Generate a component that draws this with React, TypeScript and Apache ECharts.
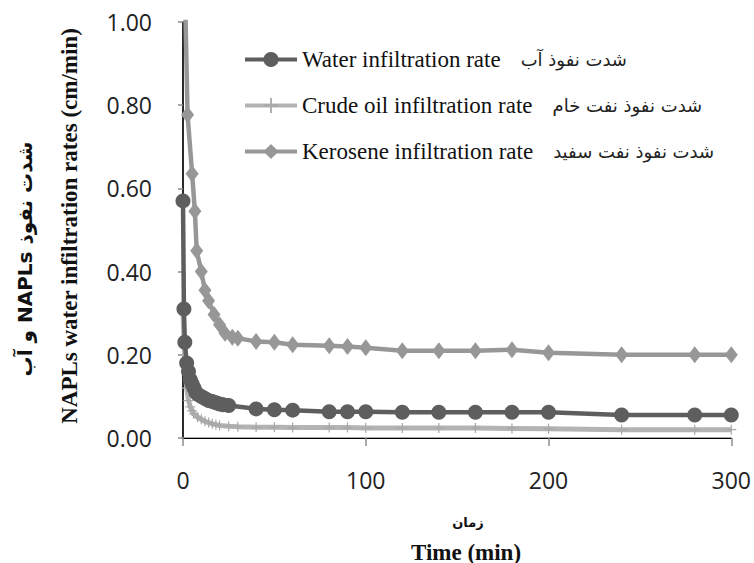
import React, { useEffect, useRef } from "react";
import * as echarts from "echarts";

// ---- data (time in min, rate in cm/min) ----
const waterT = [0, 0.5, 1, 2, 3, 4, 5, 6, 7, 8, 10, 12, 14, 16, 18, 20, 22, 25, 40, 50, 60, 80, 90, 100, 120, 140, 160, 180, 200, 240, 280, 300];
const waterV = [0.57, 0.31, 0.23, 0.18, 0.16, 0.14, 0.13, 0.12, 0.11, 0.105, 0.1, 0.095, 0.09, 0.088, 0.085, 0.082, 0.08, 0.078, 0.07, 0.068, 0.067, 0.063, 0.063, 0.063, 0.062, 0.062, 0.062, 0.062, 0.062, 0.055, 0.055, 0.055];

const crudeT = [0, 1, 2, 3, 4, 5, 6, 8, 10, 12, 14, 16, 18, 20, 25, 30, 40, 50, 60, 80, 90, 100, 120, 140, 160, 180, 200, 240, 280, 300];
const crudeV = [0.3, 0.18, 0.12, 0.09, 0.075, 0.065, 0.058, 0.05, 0.045, 0.04, 0.037, 0.034, 0.032, 0.03, 0.028, 0.027, 0.026, 0.026, 0.025, 0.025, 0.025, 0.024, 0.024, 0.024, 0.024, 0.023, 0.022, 0.02, 0.02, 0.02];

const keroT = [0, 2.5, 5, 6.5, 7.5, 10, 12, 14, 17, 20, 23, 27, 30, 40, 50, 60, 80, 90, 100, 120, 140, 160, 180, 200, 240, 280, 300];
const keroV = [1.3, 0.777, 0.635, 0.545, 0.45, 0.4, 0.355, 0.33, 0.297, 0.272, 0.252, 0.242, 0.24, 0.232, 0.23, 0.224, 0.222, 0.22, 0.217, 0.21, 0.21, 0.21, 0.212, 0.205, 0.2, 0.2, 0.2];

const seriesNames = ["Water infiltration rate", "Crude oil infiltration rate", "Kerosene infiltration rate"];
const seriesNamesFa = ["شدت نفوذ آب", "شدت نفوذ نفت خام", "شدت نفوذ نفت سفید"];

const yTitle = "NAPLs water infiltration rates (cm/min)";
const yTitleFa = "\u202Bشدت نفوذ NAPLs و آب\u202C";
const xTitle = "Time (min)";
const xTitleFa = "زمان";

const zip = (t: number[], v: number[]) => t.map((x, i) => [x, v[i]]);

const PLUS = "path://M4.4,0H5.6V4.4H10V5.6H5.6V10H4.4V5.6H0V4.4H4.4Z";

export default function App() {
  const ref = useRef<HTMLDivElement>(null);
  useEffect(() => {
    document.body.style.margin = "0";
    const chart = echarts.init(ref.current!, undefined, { renderer: "svg" });
    const axisGrey = "#8c8c8c";
    const tickFont = "Open Sans";
    chart.setOption({
      animation: false,
      backgroundColor: "#fff",
      grid: { left: 183, right: 21, top: 22, bottom: 125 },
      legend: {
        orient: "vertical",
        left: 238,
        top: 43,
        itemWidth: 52,
        itemHeight: 19,
        itemGap: 23,
        data: seriesNames,
        lineStyle: { width: 4 },
        formatter: (name: string) => {
          const i = seriesNames.indexOf(name);
          return `{en|${name}}{fa|${seriesNamesFa[i]}}`;
        },
        textStyle: {
          rich: {
            en: { fontFamily: "Liberation Serif", fontSize: 23, color: "#111", lineHeight: 25 },
            fa: { fontFamily: "DejaVu Sans", fontSize: 18, color: "#222", padding: [0, 0, 0, 20], lineHeight: 25 },
          },
        },
      },
      xAxis: [
        {
          type: "value",
          min: 0,
          max: 300,
          interval: 100,
          axisLine: { show: true, lineStyle: { color: axisGrey, width: 1.5 } },
          axisTick: { show: true, length: 8, lineStyle: { color: axisGrey, width: 1.5 } },
          axisLabel: { margin: 30, fontFamily: tickFont, fontSize: 23, color: "#222" },
          splitLine: { show: false },
        },
        {
          type: "value",
          position: "top",
          min: 0,
          max: 300,
          axisLine: { show: true, lineStyle: { color: "#000", width: 1 } },
          axisTick: { show: false },
          axisLabel: { show: false },
          splitLine: { show: false },
        },
      ],
      yAxis: [
        {
          type: "value",
          min: 0,
          max: 1,
          interval: 0.2,
          axisLine: { show: true, lineStyle: { color: axisGrey, width: 1.5 } },
          axisTick: { show: true, length: 5, lineStyle: { color: axisGrey, width: 1.5 } },
          axisLabel: {
            margin: 31,
            fontFamily: tickFont,
            fontSize: 23,
            color: "#222",
            formatter: (v: number) => v.toFixed(2),
          },
          splitLine: { show: false },
        },
        {
          type: "value",
          position: "right",
          min: 0,
          max: 1,
          axisLine: { show: true, lineStyle: { color: "#000", width: 1.5 } },
          axisTick: { show: false },
          axisLabel: { show: false },
          splitLine: { show: false },
        },
      ],
      series: [
        {
          name: seriesNames[1],
          type: "line",
          data: zip(crudeT, crudeV),
          symbol: PLUS,
          symbolSize: 10,
          lineStyle: { color: "#b3b3b3", width: 5 },
          itemStyle: { color: "#a8a8a8" },
          z: 2,
        },
        {
          name: seriesNames[2],
          type: "line",
          data: zip(keroT, keroV),
          symbol: "diamond",
          symbolSize: [13, 17],
          lineStyle: { color: "#979797", width: 4.5 },
          itemStyle: { color: "#979797" },
          z: 3,
        },
        {
          name: seriesNames[0],
          type: "line",
          data: zip(waterT, waterV),
          symbol: "circle",
          symbolSize: 15,
          lineStyle: { color: "#5e5e5e", width: 4.5 },
          itemStyle: { color: "#5e5e5e" },
          z: 4,
        },
      ],
      graphic: [
        {
          type: "text",
          x: 69,
          y: 226,
          rotation: Math.PI / 2,
          style: {
            text: yTitle,
            font: "bold 23px 'Liberation Serif'",
            fill: "#111",
            align: "center",
            verticalAlign: "middle",
          },
        },
        {
          type: "text",
          x: 25,
          y: 259,
          rotation: Math.PI / 2,
          style: {
            text: yTitleFa,
            font: "bold 20px 'DejaVu Sans'",
            fill: "#111",
            align: "center",
            verticalAlign: "middle",
          },
        },
        {
          type: "text",
          x: 468,
          y: 522,
          style: {
            text: xTitleFa,
            font: "bold 13px 'DejaVu Sans'",
            fill: "#111",
            align: "center",
            verticalAlign: "middle",
          },
        },
        {
          type: "text",
          x: 466,
          y: 552,
          style: {
            text: xTitle,
            font: "bold 23px 'Liberation Serif'",
            fill: "#111",
            align: "center",
            verticalAlign: "middle",
          },
        },
      ],
    });
    return () => chart.dispose();
  }, []);
  return <div ref={ref} style={{ width: 754, height: 563 }} />;
}
